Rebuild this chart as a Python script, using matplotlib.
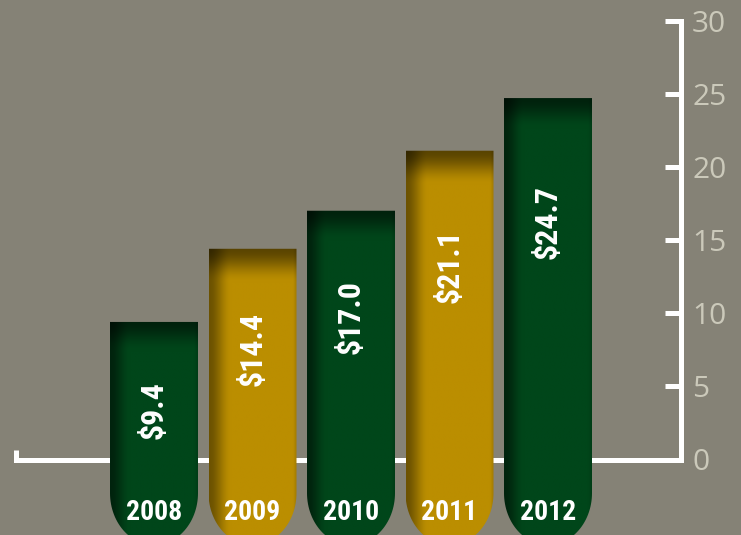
import numpy as np
import matplotlib
matplotlib.use('Agg')
import matplotlib.pyplot as plt
from matplotlib.path import Path
from matplotlib.patches import PathPatch
from matplotlib.colors import to_rgb

years = ['2008', '2009', '2010', '2011', '2012']
values = [9.4, 14.4, 17.0, 21.1, 24.7]
value_labels = ['$9.4', '$14.4', '$17.0', '$21.1', '$24.7']
y_ticks = [0, 5, 10, 15, 20, 25, 30]

bg = '#858276'
green = '#00461a'
gold = '#bb8e00'
bar_colors = [green, gold, green, gold, green]
tick_label_color = '#cbc9ba'

cond_font = ['Roboto Condensed', 'Liberation Sans Narrow', 'Open Sans Condensed',
             'DejaVu Sans']

W, H = 741, 535
PX_X = 98.5
PX_Y = 14.633
X0 = 154.0
Y0 = 459.5

fig = plt.figure(figsize=(W / 100, H / 100), dpi=100, facecolor=bg)
ax = fig.add_axes([0, 0, 1, 1], facecolor=bg)

bar_w = 88 / PX_X
neck = -(493 - Y0) / PX_Y
b_ell = 52 / PX_Y


def smooth(t):
    t = np.clip(t, 0, 1)
    return t * t * (3 - 2 * t)


for i, (v, col) in enumerate(zip(values, bar_colors)):
    xl, xr = i - bar_w / 2, i + bar_w / 2
    a = bar_w / 2
    th = np.linspace(0, -np.pi, 60)
    ex = i + a * np.cos(th)
    ey = neck + b_ell * np.sin(th)
    verts = [(xl, v), (xr, v), (xr, neck)] + list(zip(ex, ey)) + [(xl, v)]
    codes = [Path.MOVETO] + [Path.LINETO] * (len(verts) - 2) + [Path.CLOSEPOLY]
    path = Path(verts, codes)
    patch = PathPatch(path, facecolor='none', edgecolor='none', zorder=3)
    ax.add_patch(patch)

    nx, ny = 120, 700
    ybot = neck - b_ell
    xs = np.linspace(xl, xr, nx)
    ys = np.linspace(ybot, v, ny)
    X, Y = np.meshgrid(xs, ys)
    d_top = (v - Y) * PX_Y
    d_left = (X - xl) * PX_X
    d_right = (xr - X) * PX_X
    base = np.array(to_rgb(col))
    if col == gold:
        ft = 0.48 + 0.52 * smooth(d_top / 34)
        fl = 0.58 + 0.42 * smooth(d_left / 22)
    else:
        ft = 0.48 + 0.52 * smooth(d_top / 30)
        fl = 0.50 + 0.50 * smooth(d_left / 20)
    fr = 0.88 + 0.12 * smooth(d_right / 4)
    f = ft * fl * fr
    img = base[None, None, :] * f[:, :, None]
    im = ax.imshow(img, extent=(xl, xr, ybot, v), origin='lower',
                   aspect='auto', interpolation='bilinear', zorder=3)
    im.set_clip_path(patch)

    ax.text(i, 0.837 * v - 4.47, value_labels[i], rotation=90,
            rotation_mode='anchor', ha='center', va='center', color='white',
            fontsize=23, fontweight='bold', family=cond_font,
            fontstretch='condensed', zorder=4)
    ax.text(i, -3.62, years[i], ha='center', va='center', color='white',
            fontsize=20, fontweight='bold', family=cond_font,
            fontstretch='condensed', zorder=4)

ax.set_xlim(-X0 / PX_X, (W - X0) / PX_X)
ax.set_ylim(-(H - Y0) / PX_Y, Y0 / PX_Y)

right_x = (681 - X0) / PX_X
left_x = (15.5 - X0) / PX_X

for s in ['top', 'left']:
    ax.spines[s].set_visible(False)
ax.spines['right'].set_position(('data', right_x))
ax.spines['right'].set_bounds(0, 30)
ax.spines['bottom'].set_position(('data', 0))
ax.spines['bottom'].set_bounds(left_x, right_x)
for s in ['right', 'bottom']:
    ax.spines[s].set_color('white')
    ax.spines[s].set_linewidth(3.6)
    ax.spines[s].set_capstyle('projecting')
    ax.spines[s].set_zorder(2)

ax.yaxis.tick_right()
ax.set_yticks(y_ticks)
ax.set_yticklabels([str(t) for t in y_ticks], family=['Open Sans', 'DejaVu Sans'])
ax.tick_params(axis='y', direction='in', length=11.5, width=3.6, color='white',
               labelcolor=tick_label_color, labelsize=21.5, pad=8)
ax.set_xticks([left_x])
ax.set_xticklabels([''])
ax.tick_params(axis='x', direction='in', length=7, width=3.6, color='white')

fig.savefig('out.png', dpi=100, facecolor=bg)
